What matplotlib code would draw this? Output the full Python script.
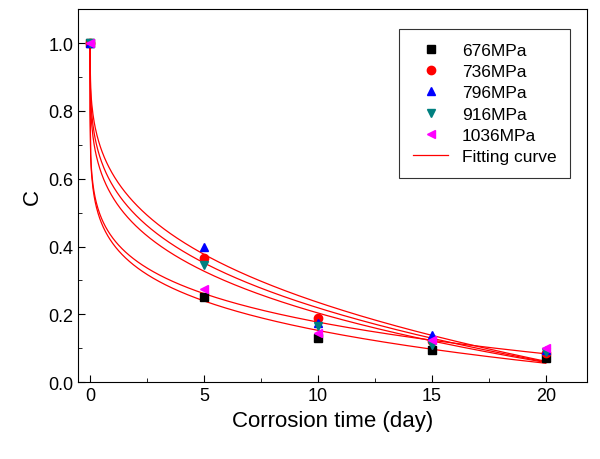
import matplotlib
matplotlib.use("Agg")
import matplotlib.pyplot as plt
import numpy as np
from matplotlib.ticker import MultipleLocator

days = [0, 5, 10, 15, 20]
c_676 = [1.0, 0.25, 0.13, 0.095, 0.07]
c_736 = [1.0, 0.365, 0.19, 0.12, 0.085]
c_796 = [1.0, 0.40, 0.175, 0.14, 0.095]
c_916 = [1.0, 0.345, 0.165, 0.11, 0.09]
c_1036 = [1.0, 0.275, 0.145, 0.125, 0.10]

series = [
    ("676MPa", c_676, "s", "black"),
    ("736MPa", c_736, "o", "red"),
    ("796MPa", c_796, "^", "blue"),
    ("916MPa", c_916, "v", "#008080"),
    ("1036MPa", c_1036, "<", "magenta"),
]

plt.rcParams["font.family"] = "Liberation Sans"
fig = plt.figure(figsize=(6, 4.6), dpi=100)
ax = fig.add_axes([0.13, 0.167, 0.848, 0.811])

t_fit = np.concatenate([[0.0], np.linspace(1e-3, 20, 800)])
for label, vals, marker, color in series:
    ax.plot(days, vals, linestyle="none", marker=marker, color=color,
            markersize=6, label=label, zorder=3)
    # fit C = 1 - a * t^b to the measured points
    t = np.array(days[1:], float)
    y = np.log(1 - np.array(vals[1:]))
    b, ln_a = np.polyfit(np.log(t), y, 1)
    c = 1 - np.exp(ln_a) * np.power(t_fit, b)
    c[0] = 1.0
    ax.plot(t_fit, c, color="red", linewidth=0.9, zorder=2,
            label="Fitting curve" if label == "1036MPa" else None)

ax.set_xlim(-0.53, 21.8)
ax.set_ylim(0, 1.1)
ax.xaxis.set_major_locator(MultipleLocator(5))
ax.xaxis.set_minor_locator(MultipleLocator(2.5))
ax.yaxis.set_major_locator(MultipleLocator(0.2))
ax.yaxis.set_minor_locator(MultipleLocator(0.1))
ax.tick_params(which="both", direction="in", labelsize=13)
ax.tick_params(which="major", length=5)
ax.tick_params(which="minor", length=3)
ax.set_xlabel("Corrosion time (day)", fontsize=16)
ax.set_ylabel("C", fontsize=16)

leg = ax.legend(loc="upper right", bbox_to_anchor=(0.985, 0.97), fontsize=12.5,
                frameon=True, fancybox=False, edgecolor="black",
                handletextpad=0.8, borderpad=0.8, labelspacing=0.35)
leg.get_frame().set_linewidth(0.8)

fig.savefig("out.png", dpi=100)
